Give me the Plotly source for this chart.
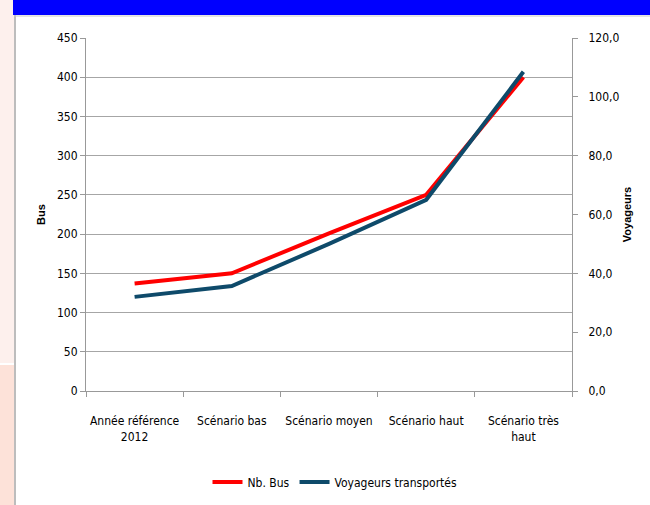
import plotly.graph_objects as go

categories = ["Année référence<br>2012", "Scénario bas", "Scénario moyen", "Scénario haut", "Scénario très<br>haut"]
nb_bus = [137, 150, 201, 250, 400]
voyageurs = [32.0, 35.7, 50.0, 65.0, 108.5]
left_ticks = [0, 50, 100, 150, 200, 250, 300, 350, 400, 450]
right_ticks = [0, 20, 40, 60, 80, 100, 120]

FONT = "DejaVu Sans Condensed, Lato, sans-serif"
L, R, T, B = 86, 78, 38, 114
W, H = 650, 505
pw, ph = W - L - R, H - T - B

def px(x):
    return (x - L) / pw

def py(y):
    return (H - B - y) / ph

fig = go.Figure()
fig.add_trace(go.Scatter(x=categories, y=nb_bus, name="Nb. Bus", mode="lines",
                         line=dict(color="#ff0000", width=4), yaxis="y"))
fig.add_trace(go.Scatter(x=categories, y=voyageurs, name="Voyageurs transportés", mode="lines",
                         line=dict(color="#0e4a6a", width=4), yaxis="y2"))

shapes = [
    dict(type="rect", xref="paper", yref="paper", x0=px(0), x1=px(14), y0=py(363), y1=py(0),
         fillcolor="#fdf0ed", line_width=0, layer="below"),
    dict(type="rect", xref="paper", yref="paper", x0=px(0), x1=px(14), y0=py(505), y1=py(365),
         fillcolor="#fde2d9", line_width=0, layer="below"),
    dict(type="line", xref="paper", yref="paper", x0=px(15), x1=px(15), y0=py(505), y1=py(15),
         line=dict(color="#bdbdbd", width=2), layer="below"),
    dict(type="rect", xref="paper", yref="paper", x0=px(13), x1=px(652), y0=py(15), y1=py(-2),
         fillcolor="#0000ff", line_width=0, layer="below"),
    dict(type="line", xref="paper", yref="paper", x0=px(14), x1=px(652), y0=py(16), y1=py(16),
         line=dict(color="#c8c8c8", width=1), layer="below"),
]

fig.update_layout(
    width=W, height=H,
    margin=dict(l=L, r=R, t=T, b=B, autoexpand=False),
    paper_bgcolor="white", plot_bgcolor="white",
    font=dict(family=FONT, size=12, color="#000000"),
    separators=", ",
    shapes=shapes,
    showlegend=True,
    hovermode=False,
    legend=dict(orientation="h", x=px(335), xanchor="center", y=py(482), yanchor="middle",
                font=dict(family=FONT, size=12), itemwidth=30, tracegroupgap=0),
    xaxis=dict(type="category", range=[-0.5, 4.5], tickson="boundaries", ticks="outside", ticklen=5,
               tickangle=0, automargin=False,
               tickcolor="#999999", showline=True, linecolor="#999999", linewidth=1,
               showgrid=False, ticklabelstandoff=19, tickfont=dict(family=FONT, size=12)),
    yaxis=dict(range=[0, 450], tickvals=left_ticks, ticks="outside", ticklen=5, automargin=False,
               tickcolor="#999999", showline=True, linecolor="#999999", linewidth=1,
               showgrid=True, gridcolor="#a6a6a6", gridwidth=1, zeroline=False,
               title=dict(text="<b>Bus</b>", font=dict(family="Liberation Sans, Arial", size=11), standoff=9),
               tickfont=dict(family=FONT, size=12)),
    yaxis2=dict(range=[0, 120], tickvals=right_ticks, tickformat=".1f", overlaying="y", side="right",
                ticks="outside", ticklen=5, tickcolor="#999999", showline=True, linecolor="#999999",
                linewidth=1, showgrid=False, zeroline=False, ticklabelstandoff=8, automargin=False,
                title=dict(text="<b>Voyageurs</b>", font=dict(family="Liberation Sans, Arial", size=11), standoff=4),
                tickfont=dict(family=FONT, size=12)),
)

fig.write_html("out.html", config={"displayModeBar": False},
               post_script="document.body.style.margin='0';")
